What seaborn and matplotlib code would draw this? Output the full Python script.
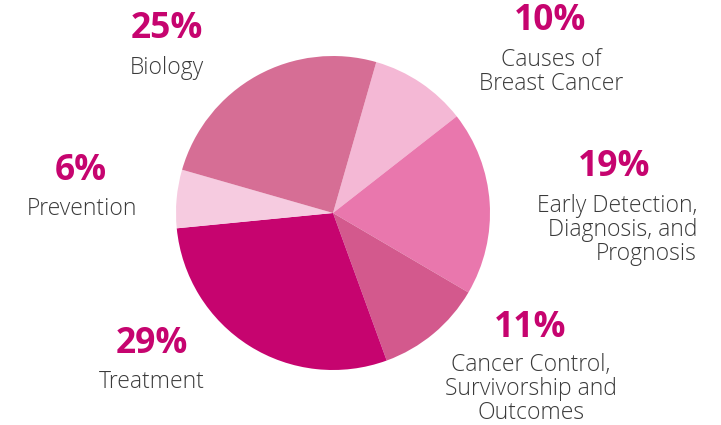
import matplotlib
matplotlib.use("Agg")
import matplotlib.pyplot as plt
import seaborn as sns

# Research areas, clockwise from the top
areas = [
    "Causes of\nBreast Cancer",
    "Early Detection,\nDiagnosis, and\nPrognosis",
    "Cancer Control,\nSurvivorship and\nOutcomes",
    "Treatment",
    "Prevention",
    "Biology",
]
shares = [10, 19, 11, 29, 6, 25]
colors = ["#F4B8D5", "#E977AD", "#D3598D", "#C6046F", "#F6CBE0", "#D66E95"]

# label anchor points (pixels, from top-left) and alignment
pct_pos = [(550, 21), (614, 167), (530, 328), (152, 344), (81, 171), (167, 29)]
txt_pos = [(551, 72), (697, 230), (531, 389), (152, 382), (82, 209), (167, 68)]
txt_ha = ["center", "right", "center", "center", "center", "center"]

sns.set_theme(style="white")
plt.rcParams["font.family"] = ["Open Sans", "DejaVu Sans"]

W, H = 721, 425
fig = plt.figure(figsize=(W / 100, H / 100), dpi=100)
ax = fig.add_axes([0, 0, 1, 1])

ax.pie(
    shares,
    colors=colors,
    startangle=74,
    counterclock=False,
    center=(333, H - 213),
    radius=157,
    wedgeprops=dict(linewidth=0),
)

for i, area in enumerate(areas):
    px, py = pct_pos[i]
    ax.text(px, H - py, f"{shares[i]}%", ha="center", va="center",
            fontsize=25.5, fontweight="bold", color="#C6046F")
    tx, ty = txt_pos[i]
    ax.text(tx, H - ty, area, ha=txt_ha[i], va="center", multialignment=txt_ha[i],
            fontsize=16.5, fontweight="light", color="#3A3A3A", linespacing=0.98)

ax.set_xlim(0, W)
ax.set_ylim(0, H)
ax.set_aspect("equal")
ax.axis("off")

fig.savefig("out.png", dpi=100)
